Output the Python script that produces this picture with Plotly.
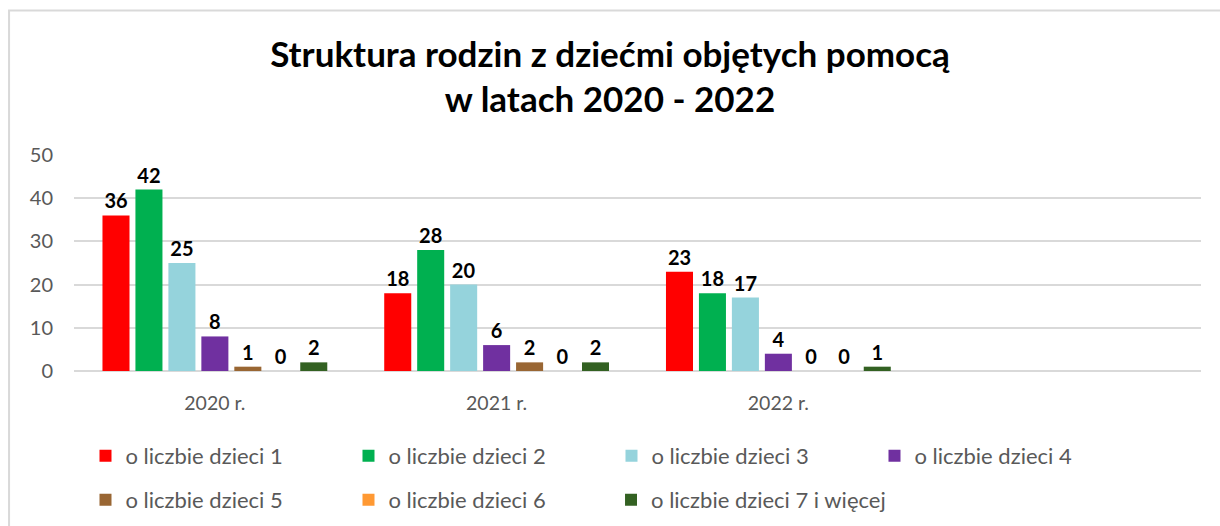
import plotly.graph_objects as go

categories = ["2020 r.", "2021 r.", "2022 r."]
series_names = [
    "o liczbie dzieci 1",
    "o liczbie dzieci 2",
    "o liczbie dzieci 3",
    "o liczbie dzieci 4",
    "o liczbie dzieci 5",
    "o liczbie dzieci 6",
    "o liczbie dzieci 7 i więcej",
]
dzieci_1 = [36, 18, 23]
dzieci_2 = [42, 28, 18]
dzieci_3 = [25, 20, 17]
dzieci_4 = [8, 6, 4]
dzieci_5 = [1, 2, 0]
dzieci_6 = [0, 0, 0]
dzieci_7 = [2, 2, 1]
y_ticks = [0, 10, 20, 30, 40, 50]

colors = ["#FF0000", "#00B050", "#95D3DC", "#7030A0", "#996633", "#FF9933", "#336122"]
values = [dzieci_1, dzieci_2, dzieci_3, dzieci_4, dzieci_5, dzieci_6, dzieci_7]
legend_of = ["legend", "legend", "legend", "legend", "legend2", "legend2", "legend3"]

FONT = "Lato"
x_pos = list(range(len(categories)))

fig = go.Figure()
for name, vals, col, lg in zip(series_names, values, colors, legend_of):
    fig.add_trace(go.Bar(
        x=x_pos, y=vals, name=name,
        marker=dict(color=col, line=dict(width=0)),
        text=[str(v) for v in vals], textposition="outside",
        textfont=dict(family=FONT, size=20, color="#000000", weight="bold"),
        cliponaxis=False,
        legend=lg,
    ))

legend_common = dict(
    orientation="h",
    font=dict(family=FONT, size=22, color="#595959"),
    bgcolor="rgba(0,0,0,0)", xanchor="left", yanchor="middle",
    itemclick=False, itemdoubleclick=False,
)
lx0 = 0.0102
col_step = 263 / 1128

fig.update_layout(
    width=1220, height=526,
    paper_bgcolor="white", plot_bgcolor="white",
    margin=dict(l=73.5, r=18.5, t=155, b=155, autoexpand=False),
    title=dict(
        text="<b>Struktura rodzin z dziećmi objętych pomocą<br>w latach 2020 - 2022</b>",
        x=0.5, xanchor="center", y=0.873, yanchor="middle",
        font=dict(family=FONT, size=35, color="#000000"),
    ),
    barmode="group", bargap=0.181, bargroupgap=0.18,
    showlegend=True,
    legend=dict(x=lx0, y=-0.3935, entrywidth=218, entrywidthmode="pixels", **legend_common),
    legend2=dict(x=lx0, y=-0.597, entrywidth=218, entrywidthmode="pixels", **legend_common),
    legend3=dict(x=lx0 + 2 * col_step, y=-0.597, **legend_common),
    xaxis=dict(
        range=[-0.5, 3.5], tickvals=x_pos, ticktext=categories,
        showgrid=False, zeroline=False, showline=False, ticks="",
        tickfont=dict(family=FONT, size=19.5, color="#595959"),
        ticklabelstandoff=18,
    ),
    yaxis=dict(
        range=[0, 50], tickvals=y_ticks, showgrid=True, gridcolor="#D9D9D9", gridwidth=1.5,
        zeroline=True, zerolinecolor="#D9D9D9", zerolinewidth=1.5, showline=False, ticks="",
        tickfont=dict(family=FONT, size=20, color="#595959"),
        ticklabelstandoff=20,
    ),
    shapes=[dict(
        type="rect", xref="paper", yref="paper",
        x0=(8.5 - 73.5) / 1128, x1=(1240 - 73.5) / 1128,
        y0=(371 - 540) / 216, y1=1 + (155 - 10.5) / 216,
        line=dict(color="#D9D9D9", width=2), fillcolor="rgba(0,0,0,0)", layer="below",
    )],
)

fig.write_html("out.html", config={"displayModeBar": False},
               post_script="document.body.style.margin='0';")
